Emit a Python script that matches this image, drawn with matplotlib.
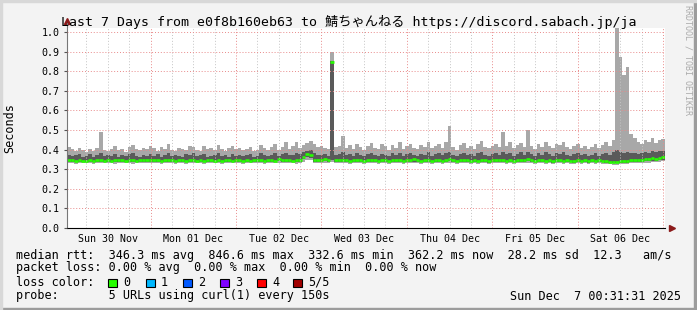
import matplotlib
matplotlib.use('Agg')
import matplotlib.pyplot as plt
import matplotlib.dates as mdates
from matplotlib.patches import Rectangle
from matplotlib.ticker import FuncFormatter, MultipleLocator, NullFormatter
from datetime import datetime, timedelta

# hourly bins, start of the 7 day window
start = datetime(2025, 11, 30, 0, 31, 31)

# top of the smoke (max ping), seconds
hi = [0.415, 0.405, 0.392, 0.41, 0.40, 0.388, 0.402, 0.395, 0.41, 0.49, 0.40, 0.392,
      0.405, 0.418, 0.398, 0.402, 0.39, 0.412, 0.425, 0.405, 0.398, 0.41, 0.402, 0.42,
      0.408, 0.395, 0.415, 0.402, 0.43, 0.40, 0.392, 0.41, 0.405, 0.398, 0.42, 0.412,
      0.40, 0.395, 0.418, 0.405, 0.41, 0.398, 0.425, 0.402, 0.395, 0.41, 0.42, 0.405,
      0.41, 0.398, 0.405, 0.415, 0.395, 0.40, 0.425, 0.408, 0.398, 0.412, 0.43, 0.40,
      0.415, 0.44, 0.405, 0.42, 0.438, 0.41, 0.425, 0.435, 0.445, 0.43, 0.412, 0.42,
      0.41, 0.405, 0.90, 0.415, 0.42, 0.47, 0.41, 0.425, 0.405, 0.43, 0.415, 0.40,
      0.42, 0.435, 0.41, 0.405, 0.43, 0.418, 0.40, 0.425, 0.41, 0.438, 0.405, 0.42,
      0.43, 0.41, 0.405, 0.425, 0.415, 0.44, 0.408, 0.42, 0.43, 0.41, 0.44, 0.52,
      0.415, 0.40, 0.425, 0.435, 0.41, 0.42, 0.405, 0.43, 0.445, 0.415, 0.41, 0.42,
      0.43, 0.415, 0.49, 0.42, 0.44, 0.41, 0.425, 0.435, 0.415, 0.50, 0.42, 0.405,
      0.43, 0.415, 0.44, 0.42, 0.41, 0.43, 0.425, 0.44, 0.415, 0.405, 0.42, 0.43,
      0.41, 0.42, 0.405, 0.415, 0.43, 0.41, 0.425, 0.44, 0.42, 0.45, 1.05, 0.87,
      0.78, 0.82, 0.48, 0.46, 0.44, 0.43, 0.45, 0.44, 0.46, 0.435, 0.45, 0.455]

# upper edge of the dense smoke
q3 = [0.372, 0.365, 0.37, 0.378, 0.362, 0.368, 0.375, 0.36, 0.37, 0.38, 0.365, 0.372,
      0.368, 0.378, 0.362, 0.37, 0.365, 0.375, 0.382, 0.368, 0.36, 0.372, 0.366, 0.375,
      0.368, 0.375, 0.362, 0.37, 0.38, 0.365, 0.372, 0.368, 0.36, 0.375, 0.37, 0.382,
      0.365, 0.37, 0.376, 0.362, 0.368, 0.374, 0.38, 0.366, 0.37, 0.362, 0.375, 0.368,
      0.372, 0.365, 0.37, 0.378, 0.362, 0.368, 0.38, 0.37, 0.365, 0.372, 0.385, 0.368,
      0.375, 0.38, 0.37, 0.372, 0.385, 0.378, 0.39, 0.395, 0.398, 0.385, 0.372, 0.37,
      0.375, 0.368, 0.85, 0.372, 0.378, 0.39, 0.37, 0.375, 0.365, 0.38, 0.372, 0.368,
      0.375, 0.385, 0.37, 0.366, 0.378, 0.372, 0.365, 0.38, 0.37, 0.382, 0.368, 0.375,
      0.38, 0.37, 0.365, 0.378, 0.372, 0.388, 0.368, 0.375, 0.382, 0.37, 0.385, 0.39,
      0.372, 0.365, 0.378, 0.384, 0.37, 0.376, 0.368, 0.38, 0.39, 0.372, 0.368, 0.375,
      0.382, 0.372, 0.39, 0.375, 0.385, 0.368, 0.378, 0.386, 0.372, 0.39, 0.375, 0.365,
      0.38, 0.372, 0.388, 0.376, 0.368, 0.38, 0.375, 0.386, 0.37, 0.365, 0.376, 0.382,
      0.37, 0.375, 0.365, 0.372, 0.38, 0.368, 0.376, 0.385, 0.372, 0.39, 0.40, 0.39,
      0.385, 0.39, 0.38, 0.385, 0.378, 0.382, 0.39, 0.385, 0.392, 0.388, 0.395, 0.392]

# median rtt
med = [0.348, 0.345, 0.343, 0.345, 0.342, 0.342, 0.345, 0.343, 0.348, 0.345, 0.342, 0.346,
       0.343, 0.345, 0.348, 0.346, 0.343, 0.345, 0.347, 0.344, 0.346, 0.349, 0.345, 0.347,
       0.345, 0.348, 0.343, 0.346, 0.349, 0.345, 0.343, 0.347, 0.345, 0.342, 0.346, 0.348,
       0.344, 0.346, 0.343, 0.345, 0.348, 0.344, 0.346, 0.343, 0.345, 0.348, 0.344, 0.346,
       0.345, 0.343, 0.347, 0.344, 0.346, 0.349, 0.345, 0.342, 0.346, 0.348, 0.344, 0.352,
       0.346, 0.345, 0.348, 0.344, 0.346, 0.347, 0.364, 0.375, 0.372, 0.348, 0.345, 0.347,
       0.352, 0.346, 0.846, 0.348, 0.345, 0.349, 0.346, 0.344, 0.347, 0.345, 0.348, 0.343,
       0.346, 0.345, 0.347, 0.344, 0.348, 0.346, 0.343, 0.347, 0.345, 0.348, 0.344, 0.346,
       0.345, 0.35, 0.346, 0.343, 0.347, 0.345, 0.344, 0.348, 0.346, 0.343, 0.345, 0.352,
       0.347, 0.344, 0.346, 0.345, 0.348, 0.343, 0.346, 0.344, 0.347, 0.345, 0.342, 0.346,
       0.348, 0.345, 0.347, 0.344, 0.346, 0.343, 0.347, 0.345, 0.349, 0.352, 0.346, 0.343,
       0.345, 0.348, 0.344, 0.346, 0.342, 0.345, 0.347, 0.343, 0.346, 0.344, 0.342, 0.345,
       0.343, 0.346, 0.342, 0.345, 0.343, 0.347, 0.344, 0.34, 0.338, 0.337, 0.336, 0.34,
       0.343, 0.341, 0.345, 0.347, 0.348, 0.346, 0.35, 0.352, 0.355, 0.353, 0.358, 0.362]

# lower edge of the dense smoke
q1 = [0.337, 0.338, 0.335, 0.337, 0.336, 0.336, 0.338, 0.335, 0.337, 0.338, 0.336, 0.337,
      0.336, 0.338, 0.337, 0.336, 0.335, 0.337, 0.338, 0.336, 0.337, 0.338, 0.336, 0.337,
      0.336, 0.338, 0.335, 0.337, 0.338, 0.336, 0.335, 0.337, 0.336, 0.335, 0.337, 0.338,
      0.336, 0.337, 0.335, 0.336, 0.338, 0.336, 0.337, 0.335, 0.336, 0.338, 0.336, 0.337,
      0.336, 0.335, 0.337, 0.336, 0.337, 0.338, 0.336, 0.335, 0.337, 0.338, 0.336, 0.34,
      0.337, 0.336, 0.338, 0.336, 0.337, 0.338, 0.35, 0.36, 0.358, 0.338, 0.336, 0.337,
      0.34, 0.337, 0.345, 0.338, 0.336, 0.338, 0.337, 0.335, 0.337, 0.336, 0.338, 0.335,
      0.337, 0.336, 0.337, 0.335, 0.338, 0.336, 0.335, 0.337, 0.336, 0.338, 0.335, 0.337,
      0.336, 0.339, 0.337, 0.335, 0.337, 0.336, 0.335, 0.338, 0.337, 0.335, 0.336, 0.34,
      0.337, 0.335, 0.337, 0.336, 0.338, 0.335, 0.337, 0.335, 0.337, 0.336, 0.334, 0.337,
      0.338, 0.336, 0.337, 0.335, 0.337, 0.335, 0.337, 0.336, 0.338, 0.34, 0.337, 0.335,
      0.336, 0.338, 0.335, 0.337, 0.334, 0.336, 0.337, 0.335, 0.337, 0.335, 0.334, 0.336,
      0.335, 0.337, 0.334, 0.336, 0.335, 0.337, 0.335, 0.332, 0.331, 0.33, 0.33, 0.332,
      0.334, 0.333, 0.336, 0.337, 0.338, 0.337, 0.34, 0.341, 0.343, 0.342, 0.345, 0.348]

# bottom of the smoke (min ping)
lo = [0.33, 0.332, 0.328, 0.33, 0.329, 0.331, 0.33, 0.326, 0.33, 0.332, 0.329, 0.33,
      0.331, 0.328, 0.33, 0.332, 0.329, 0.33, 0.328, 0.331, 0.33, 0.332, 0.329, 0.33,
      0.331, 0.33, 0.327, 0.33, 0.332, 0.329, 0.328, 0.331, 0.33, 0.327, 0.33, 0.332,
      0.329, 0.33, 0.328, 0.331, 0.332, 0.329, 0.33, 0.328, 0.33, 0.331, 0.329, 0.33,
      0.33, 0.328, 0.331, 0.33, 0.329, 0.332, 0.33, 0.328, 0.33, 0.331, 0.329, 0.333,
      0.33, 0.329, 0.331, 0.33, 0.328, 0.331, 0.338, 0.345, 0.345, 0.331, 0.329, 0.33,
      0.332, 0.33, 0.336, 0.331, 0.329, 0.331, 0.33, 0.328, 0.33, 0.329, 0.331, 0.328,
      0.33, 0.329, 0.331, 0.328, 0.33, 0.329, 0.328, 0.33, 0.329, 0.331, 0.328, 0.33,
      0.329, 0.332, 0.33, 0.328, 0.33, 0.329, 0.328, 0.331, 0.33, 0.328, 0.329, 0.333,
      0.33, 0.328, 0.33, 0.329, 0.331, 0.328, 0.33, 0.328, 0.33, 0.329, 0.327, 0.33,
      0.331, 0.329, 0.33, 0.328, 0.33, 0.328, 0.33, 0.329, 0.331, 0.333, 0.33, 0.328,
      0.329, 0.331, 0.328, 0.33, 0.327, 0.329, 0.33, 0.328, 0.33, 0.328, 0.327, 0.329,
      0.328, 0.33, 0.327, 0.329, 0.328, 0.33, 0.328, 0.325, 0.324, 0.323, 0.323, 0.325,
      0.327, 0.326, 0.329, 0.33, 0.331, 0.33, 0.333, 0.334, 0.336, 0.335, 0.338, 0.341]

title = "Last 7 Days from e0f8b160eb63 to 鯖ちゃんねる https://discord.sabach.jp/ja"
rtt_stats = ["346.3", "846.6", "332.6", "362.2", "28.2", "12.3"]
loss_stats = ["0.00", "0.00", "0.00", "0.00"]
loss_labels = ["0", "1", "2", "3", "4", "5/5"]
loss_colors = ["#26ff00", "#00b8ff", "#0059ff", "#7e00ff", "#ff0000", "#a10000"]
probe_text = "5 URLs using curl(1) every 150s"
stamp = "Sun Dec  7 00:31:31 2025"

W, H = 697, 310
mono = ['DejaVu Sans Mono', 'Noto Sans CJK JP']
plt.rcParams['font.family'] = mono

edges = mdates.date2num([start + timedelta(hours=i) for i in range(len(hi) + 1)])

fig = plt.figure(figsize=(W / 100, H / 100), dpi=100, facecolor='#f3f3f3')
ax = fig.add_axes([67 / W, 1 - 228 / H, (665 - 67) / W, 200 / H])
ax.set_facecolor('white')

ax.stairs(hi, edges, baseline=lo, fill=True, color='#a8a8a8', lw=0)
ax.stairs(q3, edges, baseline=q1, fill=True, color='#5a5a5a', lw=0)
ax.hlines(med, edges[:-1], edges[1:], colors='#26ff00', lw=1.9, capstyle='butt')

ax.set_xlim(edges[0], edges[-1])
ax.set_ylim(0, 1.02)

# grid
ax.yaxis.set_major_locator(MultipleLocator(0.1))
ax.yaxis.set_major_formatter(FuncFormatter(lambda v, p: f"{v:.1f}"))
ax.xaxis.set_major_locator(mdates.DayLocator())
ax.xaxis.set_major_formatter(NullFormatter())
ax.xaxis.set_minor_locator(mdates.HourLocator(byhour=[6, 12, 18]))
ax.xaxis.set_minor_formatter(FuncFormatter(
    lambda v, p: mdates.num2date(v).strftime('%a %d %b') if mdates.num2date(v).hour == 12 else ''))
ax.grid(True, which='major', axis='both', color='#e88a8a', lw=0.7, ls=(0, (1, 2)))
ax.grid(True, which='minor', axis='x', color='#c4c4c4', lw=0.7, ls=(0, (1, 2)))
ax.set_axisbelow(False)
for g in ax.get_xgridlines() + ax.get_ygridlines():
    g.set_zorder(0.5)

ax.tick_params(axis='y', length=2, width=0.8, color='#555555', pad=3.5, labelsize=7.2)
ax.tick_params(axis='x', which='major', length=0)
ax.tick_params(axis='x', which='minor', length=0, pad=4, labelsize=7.2)

for s in ['top', 'right']:
    ax.spines[s].set_visible(False)
ax.spines['left'].set_color('#777777')
ax.spines['bottom'].set_color('black')
ax.spines['left'].set_bounds(0, 1.045)
ax.plot([1.012], [0], marker='>', ms=4, color='#8b1a1a', transform=ax.transAxes, clip_on=False)
ax.plot([0], [1.035], marker='^', ms=4, color='#8b1a1a', transform=ax.transAxes, clip_on=False)


def px(x, y):
    return x / W, 1 - y / H


fig.text(*px(10, 128), 'Seconds', rotation=90, ha='center', va='center', fontsize=8.5)
fig.text(*px(W / 2, 22), title, ha='center', va='center', fontsize=9.5, family=mono)
fig.text(*px(688, 60), 'RRDTOOL / TOBI OETIKER', rotation=270, ha='center', va='center',
         fontsize=6, color='#ababab')

fs = 8.5
line1 = ("median rtt:  {} ms avg  {} ms max  {} ms min  {} ms now  {} ms sd  {}   am/s"
         .format(*rtt_stats))
line2 = "packet loss: {} % avg  {} % max  {} % min  {} % now".format(*loss_stats)
fig.text(*px(16, 255), line1, va='center', fontsize=fs)
fig.text(*px(16, 268), line2, va='center', fontsize=fs)
fig.text(*px(16, 282), 'loss color:', va='center', fontsize=fs)
box_x = [108, 146, 183, 220, 257, 293]
for bx, lab, col in zip(box_x, loss_labels, loss_colors):
    fig.patches.append(Rectangle(px(bx, 287), 9 / W, 8 / H, transform=fig.transFigure,
                                 facecolor=col, edgecolor='black', lw=0.8))
    fig.text(*px(bx + 15, 282), lab, va='center', fontsize=fs)
fig.text(*px(16, 296), 'probe:       ' + probe_text, va='center', fontsize=fs)
fig.text(*px(681, 296), stamp, ha='right', va='center', fontsize=fs)

# bevelled frame
fig.patches.append(Rectangle((0, 0), 1, 2 / H, transform=fig.transFigure, color='#9c9c9c'))
fig.patches.append(Rectangle((1 - 3 / W, 0), 3 / W, 1, transform=fig.transFigure, color='#9c9c9c'))
fig.patches.append(Rectangle((0, 1 - 2 / H), 1, 2 / H, transform=fig.transFigure, color='#d8d8d8'))
fig.patches.append(Rectangle((0, 0), 2 / W, 1, transform=fig.transFigure, color='#d8d8d8'))

fig.savefig('out.png', dpi=100, facecolor=fig.get_facecolor())
